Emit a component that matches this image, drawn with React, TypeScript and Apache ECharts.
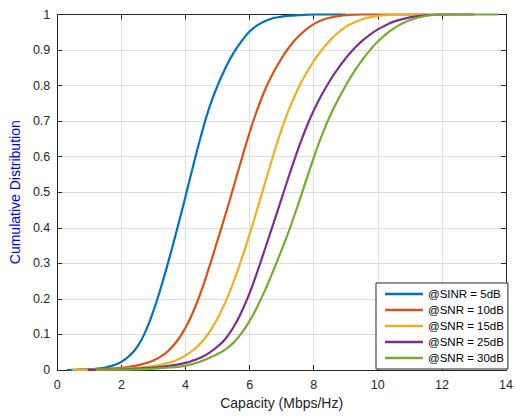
import React, { useEffect, useRef } from "react";
import * as echarts from "echarts";

const seriesNames = ["@SINR = 5dB", "@SNR = 10dB", "@SNR = 15dB", "@SNR = 25dB", "@SNR = 30dB"];
const seriesColors = ["#0072BD", "#D95319", "#EDB120", "#7E2F8E", "#77AC30"];

// [capacity, cumulative probability]
const snr5: [number, number][] = [
  [0.3, 0], [0.75, 0.001], [1.0, 0.002], [1.25, 0.004], [1.5, 0.007], [1.75, 0.013], [2.0, 0.023],
  [2.25, 0.04], [2.5, 0.066], [2.75, 0.108], [3.0, 0.166], [3.25, 0.237], [3.5, 0.316],
  [3.75, 0.4], [4.0, 0.488], [4.25, 0.578], [4.5, 0.664], [4.75, 0.74], [5.0, 0.8], [5.25, 0.85],
  [5.5, 0.892], [5.75, 0.925], [6.0, 0.952], [6.25, 0.97], [6.5, 0.982], [6.75, 0.99],
  [7.0, 0.994], [7.25, 0.9965], [7.5, 0.998], [8.0, 1], [9.0, 1],
];
const snr10: [number, number][] = [
  [0.45, 0], [1.0, 0.001], [1.5, 0.003], [2.0, 0.006], [2.25, 0.009], [2.5, 0.013], [2.75, 0.019],
  [3.0, 0.027], [3.25, 0.039], [3.5, 0.057], [3.75, 0.083], [4.0, 0.119], [4.25, 0.166],
  [4.5, 0.224], [4.75, 0.292], [5.0, 0.365], [5.25, 0.438], [5.5, 0.515], [5.75, 0.593],
  [6.0, 0.668], [6.25, 0.735], [6.5, 0.792], [6.75, 0.838], [7.0, 0.877], [7.25, 0.91],
  [7.5, 0.936], [7.75, 0.957], [8.0, 0.973], [8.25, 0.984], [8.5, 0.991], [8.75, 0.995],
  [9.0, 0.998], [9.5, 1], [11.5, 1],
];
const snr15: [number, number][] = [
  [0.48, 0], [1.0, 0.0005], [1.5, 0.0015], [2.0, 0.003], [2.5, 0.006], [3.0, 0.011], [3.25, 0.015],
  [3.5, 0.021], [3.75, 0.029], [4.0, 0.041], [4.25, 0.057], [4.5, 0.078], [4.75, 0.107],
  [5.0, 0.145], [5.25, 0.192], [5.5, 0.248], [5.75, 0.312], [6.0, 0.382], [6.25, 0.456],
  [6.5, 0.532], [6.75, 0.607], [7.0, 0.677], [7.25, 0.738], [7.5, 0.789], [7.75, 0.832],
  [8.0, 0.869], [8.25, 0.9], [8.5, 0.926], [8.75, 0.948], [9.0, 0.965], [9.25, 0.977],
  [9.5, 0.986], [9.75, 0.992], [10.0, 0.996], [10.5, 0.999], [11.0, 1], [12.5, 1],
];
const snr25: [number, number][] = [
  [0.95, 0], [1.5, 0.001], [2.0, 0.002], [2.5, 0.004], [3.0, 0.007], [3.5, 0.012], [4.0, 0.02],
  [4.25, 0.027], [4.5, 0.036], [4.75, 0.049], [5.0, 0.066], [5.25, 0.088], [5.5, 0.121],
  [5.75, 0.164], [6.0, 0.216], [6.25, 0.279], [6.5, 0.346], [6.75, 0.414], [7.0, 0.483],
  [7.25, 0.552], [7.5, 0.618], [7.75, 0.678], [8.0, 0.73], [8.25, 0.774], [8.5, 0.813],
  [8.75, 0.847], [9.0, 0.877], [9.25, 0.903], [9.5, 0.925], [9.75, 0.943], [10.0, 0.958],
  [10.25, 0.97], [10.5, 0.98], [11.0, 0.992], [11.5, 0.998], [12.0, 1], [13.0, 1],
];
const snr30: [number, number][] = [
  [1.2, 0], [2.0, 0.001], [2.5, 0.002], [3.0, 0.004], [3.5, 0.007], [4.0, 0.012], [4.5, 0.025],
  [5.0, 0.045], [5.25, 0.058], [5.5, 0.077], [5.75, 0.104], [6.0, 0.138], [6.25, 0.18],
  [6.5, 0.228], [6.75, 0.282], [7.0, 0.338], [7.25, 0.397], [7.5, 0.462], [7.75, 0.53],
  [8.0, 0.597], [8.25, 0.659], [8.5, 0.713], [8.75, 0.759], [9.0, 0.8], [9.25, 0.838],
  [9.5, 0.87], [9.75, 0.899], [10.0, 0.924], [10.25, 0.944], [10.5, 0.961], [10.75, 0.974],
  [11.0, 0.984], [11.5, 0.996], [12.0, 1], [13.75, 1],
];
const allData = [snr5, snr10, snr15, snr25, snr30];

const xTicks = { min: 0, max: 14, interval: 2 };
const yTicks = { min: 0, max: 1, interval: 0.1 };

const FONT = "'Liberation Sans', Arial, Helvetica, sans-serif";
const INK = "#262626";

export default function App() {
  const ref = useRef<HTMLDivElement>(null);
  useEffect(() => {
    if (!ref.current) return;
    const chart = echarts.init(ref.current, undefined, { renderer: "svg" });
    const tickCommon = { show: true, inside: true, length: 5, lineStyle: { color: INK, width: 1 } };
    const lineCommon = { show: true, onZero: false, lineStyle: { color: INK, width: 1 } };
    chart.setOption({
      animation: false,
      backgroundColor: "#ffffff",
      textStyle: { fontFamily: FONT },
      grid: { left: 52, right: 5, top: 14.5, bottom: 46, containLabel: false },
      legend: {
        orient: "vertical",
        left: 376,
        top: 283,
        padding: [3, 4, 3, 9],
        itemGap: 0,
        itemWidth: 38,
        itemHeight: 2.5,
        icon: "rect",
        backgroundColor: "#ffffff",
        borderColor: INK,
        borderWidth: 1,
        borderRadius: 0,
        textStyle: { fontFamily: FONT, fontSize: 11.5, color: "#000000", lineHeight: 16 },
        data: seriesNames,
      },
      xAxis: [
        {
          type: "value",
          ...xTicks,
          position: "bottom",
          name: "Capacity (Mbps/Hz)",
          nameLocation: "middle",
          nameGap: 25,
          nameTextStyle: { fontFamily: FONT, fontSize: 14, color: INK },
          axisLine: lineCommon,
          axisTick: tickCommon,
          axisLabel: { fontFamily: FONT, fontSize: 12.5, color: INK, margin: 8 },
          splitLine: { show: true, lineStyle: { color: "#dedede", width: 1 } },
        },
        {
          type: "value",
          ...xTicks,
          position: "top",
          axisLine: lineCommon,
          axisTick: tickCommon,
          axisLabel: { show: false },
          splitLine: { show: false },
        },
      ],
      yAxis: [
        {
          type: "value",
          ...yTicks,
          position: "left",
          name: "Cumulative Distribution",
          nameLocation: "middle",
          nameGap: 27,
          nameTextStyle: { fontFamily: FONT, fontSize: 14, color: "#0000FF" },
          axisLine: lineCommon,
          axisTick: tickCommon,
          axisLabel: { fontFamily: FONT, fontSize: 12.5, color: INK, margin: 7 },
          splitLine: { show: true, lineStyle: { color: "#dedede", width: 1 } },
        },
        {
          type: "value",
          ...yTicks,
          position: "right",
          axisLine: lineCommon,
          axisTick: tickCommon,
          axisLabel: { show: false },
          splitLine: { show: false },
        },
      ],
      series: allData.map((d, i) => ({
        name: seriesNames[i],
        type: "line",
        data: d,
        xAxisIndex: 0,
        yAxisIndex: 0,
        smooth: 0.5,
        showSymbol: false,
        symbol: "none",
        lineStyle: { color: seriesColors[i], width: 2.2 },
        itemStyle: { color: seriesColors[i] },
        clip: false,
      })),
    });
    return () => chart.dispose();
  }, []);
  return (
    <div
      ref={ref}
      style={{ position: "absolute", left: 0, top: 0, width: 516, height: 416 }}
    />
  );
}
